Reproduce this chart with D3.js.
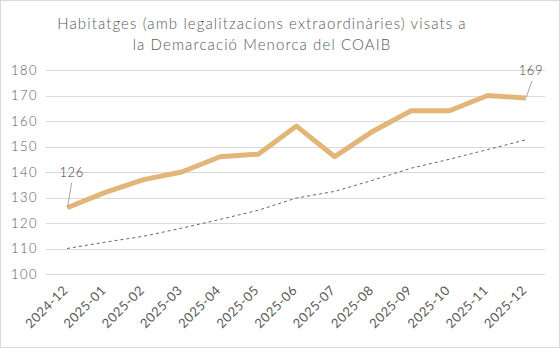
<!DOCTYPE html>
<html>
<head>
<meta charset="utf-8">
<script src="https://cdn.jsdelivr.net/npm/d3@7"></script>
<style>
  body { margin: 0; background: #fff; }
  svg { display: block; font-family: Lato, "Open Sans", sans-serif; }
</style>
</head>
<body>
<svg id="chart" width="560" height="348"></svg>
<script>
var months = ['2024-12', '2025-01', '2025-02', '2025-03', '2025-04', '2025-05', '2025-06',
  '2025-07', '2025-08', '2025-09', '2025-10', '2025-11', '2025-12'];
var visats = [126, 132, 137, 140, 146, 147, 158, 146, 156, 164, 164, 170, 169];
var tendencia = [110, 112.5, 114.8, 118, 121.4, 125, 129.8, 132.4, 136.8, 141.5, 145, 148.8, 152.6];
var yTicks = [100, 110, 120, 130, 140, 150, 160, 170, 180];

var width = 560;
var height = 348;
var margin = { top: 70, right: 15, bottom: 74, left: 48 };
var fontFamily = 'Lato, "Open Sans", sans-serif';

var svg = d3.select('#chart');

// chart border
svg.append('rect')
  .attr('x', 0.5).attr('y', 0.5)
  .attr('width', width - 1).attr('height', height - 1)
  .attr('fill', '#fff')
  .attr('stroke', '#d9d9d9');

// title
var title = svg.append('text')
  .attr('text-anchor', 'middle')
  .attr('fill', '#595959')
  .attr('font-size', 15)
  .attr('font-weight', 300)
  .attr('letter-spacing', 1.1);
title.append('tspan').attr('x', 262).attr('y', 29).text('Habitatges (amb legalitzacions extraordinàries) visats a');
title.append('tspan').attr('x', 262).attr('y', 50).text('la Demarcació Menorca del COAIB');

var x = d3.scalePoint()
  .domain(months)
  .range([margin.left, width - margin.right])
  .padding(0.5);

var y = d3.scaleLinear()
  .domain([100, 180])
  .range([274, margin.top]);

// gridlines
svg.append('g')
  .selectAll('line')
  .data(yTicks)
  .join('line')
  .attr('x1', margin.left - 2)
  .attr('x2', width - margin.right)
  .attr('y1', function (d) { return Math.round(y(d)) + 0.5; })
  .attr('y2', function (d) { return Math.round(y(d)) + 0.5; })
  .attr('stroke', '#d9d9d9');

// y axis labels
var yAxis = svg.append('g')
  .attr('transform', 'translate(' + (margin.left - 10) + ',0)')
  .call(d3.axisLeft(y).tickValues(yTicks).tickSize(0).tickPadding(0));
yAxis.select('.domain').remove();
yAxis.selectAll('text')
  .attr('fill', '#595959')
  .attr('font-size', 13)
  .attr('font-weight', 300)
  .attr('letter-spacing', 1.5)
  .attr('font-family', fontFamily);

// x axis labels
var xAxis = svg.append('g')
  .attr('transform', 'translate(0,' + 282 + ')')
  .call(d3.axisBottom(x).tickSize(0).tickPadding(0));
xAxis.select('.domain').remove();
xAxis.selectAll('text')
  .attr('fill', '#595959')
  .attr('font-size', 13)
  .attr('font-weight', 400)
  .attr('letter-spacing', 0.5)
  .attr('font-family', fontFamily)
  .attr('text-anchor', 'end')
  .attr('dy', 0)
  .attr('transform', 'translate(1,9) rotate(-45)');

// trend line (dashed)
var line = d3.line()
  .x(function (d, i) { return x(months[i]); })
  .y(function (d) { return y(d); });

svg.append('path')
  .datum(tendencia)
  .attr('d', line)
  .attr('fill', 'none')
  .attr('stroke', '#666')
  .attr('stroke-width', 1)
  .attr('stroke-dasharray', '3,3');

// main line
svg.append('path')
  .datum(visats)
  .attr('d', line)
  .attr('fill', 'none')
  .attr('stroke', '#e2b679')
  .attr('stroke-width', 5)
  .attr('stroke-linejoin', 'round');

// data labels for first and last point, with leader lines
var labelled = [
  { i: 0, tx: 4.5, ty: -31, lx: 4.5, ly: -25 },
  { i: visats.length - 1, tx: 5, ty: -23, lx: 6, ly: -17 }
];
labelled.forEach(function (l) {
  var px = x(months[l.i]);
  var py = y(visats[l.i]);
  svg.append('line')
    .attr('x1', px + 0.5).attr('y1', py - 1)
    .attr('x2', px + l.lx).attr('y2', py + l.ly)
    .attr('stroke', '#a6a6a6');
  svg.append('text')
    .attr('x', px + l.tx)
    .attr('y', py + l.ty)
    .attr('text-anchor', 'middle')
    .attr('fill', '#404040')
    .attr('font-size', 13)
    .attr('font-weight', 300)
    .attr('letter-spacing', 0.5)
    .text(visats[l.i]);
});
</script>
</body>
</html>
